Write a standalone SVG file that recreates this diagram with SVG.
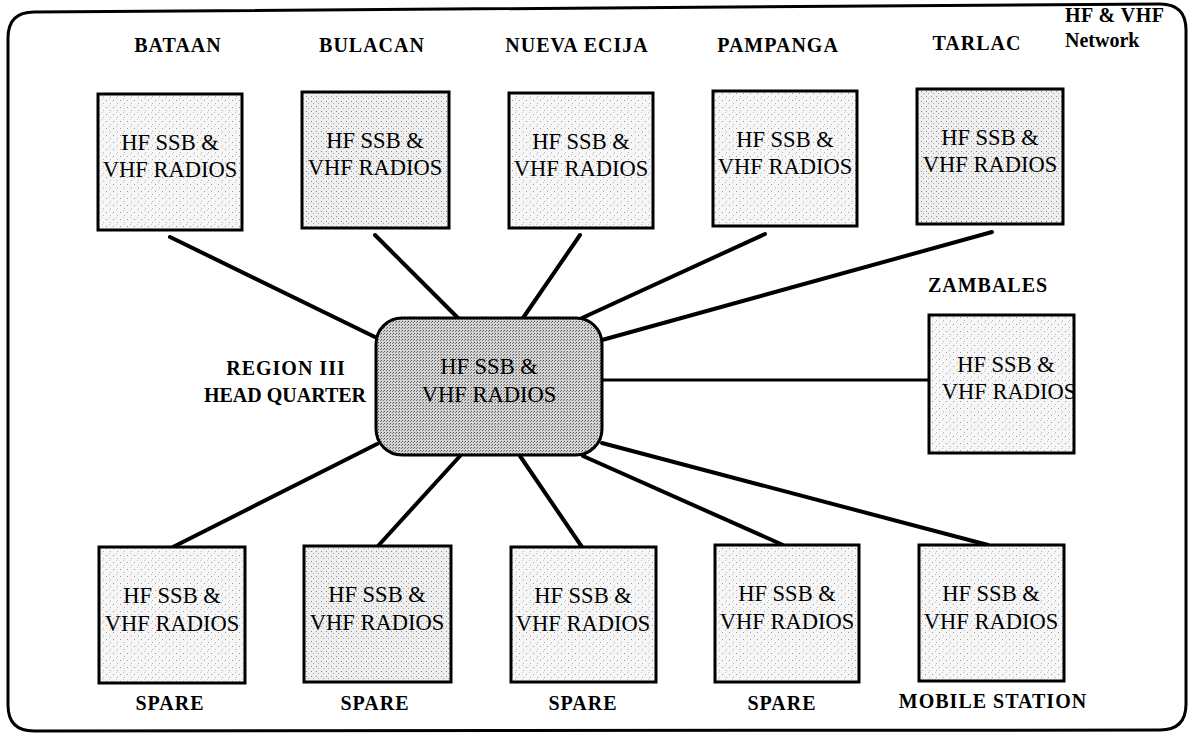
<svg xmlns="http://www.w3.org/2000/svg" width="1190" height="733" viewBox="0 0 1190 733">
<defs>
<pattern id="speck" width="7" height="7" patternUnits="userSpaceOnUse">
<rect width="7" height="7" fill="#f6f6f6"/>
<rect x="1" y="2" width="1" height="1" fill="#9a9a9a"/>
<rect x="5" y="5" width="1" height="1" fill="#b4b4b4"/>
<rect x="4" y="0" width="1" height="1" fill="#c8c8c8"/>
</pattern>
<pattern id="speck2" width="5" height="5" patternUnits="userSpaceOnUse">
<rect width="5" height="5" fill="#efefef"/>
<rect x="1" y="1" width="1" height="1" fill="#8a8a8a"/>
<rect x="3" y="3" width="1" height="1" fill="#a4a4a4"/>
</pattern>
<pattern id="halftone" width="3" height="3" patternUnits="userSpaceOnUse">
<rect width="3" height="3" fill="#d4d4d4"/>
<rect x="0" y="0" width="1" height="1" fill="#555"/>
<rect x="2" y="1" width="1" height="1" fill="#777"/>
</pattern>
</defs>
<style>
.frame{fill:none;stroke:#000;stroke-width:3}
.box{stroke:#000;stroke-width:3;fill:url(#speck)}
.box2{stroke:#000;stroke-width:3;fill:url(#speck2)}
.hub{stroke:#000;stroke-width:3;fill:url(#halftone)}
.t{font-family:"Liberation Serif","Times New Roman",serif;font-size:22.5px;fill:#000;text-anchor:middle}
.lbl{font-family:"Liberation Serif","Times New Roman",serif;font-size:20px;font-weight:bold;fill:#000;text-anchor:middle;letter-spacing:1px}
.conn line{stroke:#000;stroke-width:4;stroke-linecap:round}
</style>
<rect width="1190" height="733" fill="#fff"/>
<path class="frame" d="M8,38 Q8,12 34,12 L1160,4 Q1186,4 1186,30 L1186,704 Q1186,730 1160,730 L34,731 Q8,731 8,705 Z"/>
<g id="title">
<text class="lbl" x="1065" y="22" style="text-anchor:start;letter-spacing:0.5px">HF &amp; VHF</text>
<text class="lbl" x="1065" y="47" style="text-anchor:start;letter-spacing:0">Network</text>
</g>
<g class="conn" id="connectors">
<line x1="170" y1="237" x2="377" y2="338"/>
<line x1="375" y1="235" x2="458" y2="318"/>
<line x1="580" y1="235" x2="523" y2="318"/>
<line x1="765" y1="234" x2="582" y2="318"/>
<line x1="992" y1="232" x2="602" y2="340"/>
<line x1="602" y1="380" x2="929" y2="380" style="stroke-width:3"/>
<line x1="377" y1="444" x2="173" y2="547"/>
<line x1="460" y1="456" x2="378" y2="546"/>
<line x1="520" y1="456" x2="582" y2="547"/>
<line x1="583" y1="456" x2="783" y2="545"/>
<line x1="602" y1="443" x2="988" y2="545"/>
</g>
<g id="hq">
<rect class="hub" x="376" y="318" width="226" height="137" rx="26"/>
<text class="t" x="489" y="374">HF SSB &amp;</text>
<text class="t" x="489" y="402">VHF RADIOS</text>
<text class="lbl" x="286" y="375">REGION III</text>
<text class="lbl" x="285" y="402" style="letter-spacing:0">HEAD QUARTER</text>
</g>
<g id="bataan">
<text class="lbl" x="178" y="52">BATAAN</text>
<rect class="box" x="98" y="94" width="144" height="136"/>
<text class="t" x="170" y="150">HF SSB &amp;</text>
<text class="t" x="170" y="177">VHF RADIOS</text>
</g>
<g id="bulacan">
<text class="lbl" x="372" y="52">BULACAN</text>
<rect class="box2" x="302" y="92" width="147" height="136"/>
<text class="t" x="375" y="148">HF SSB &amp;</text>
<text class="t" x="375" y="175">VHF RADIOS</text>
</g>
<g id="nueva-ecija">
<text class="lbl" x="577" y="52">NUEVA ECIJA</text>
<rect class="box" x="509" y="93" width="144" height="135"/>
<text class="t" x="581" y="149">HF SSB &amp;</text>
<text class="t" x="581" y="176">VHF RADIOS</text>
</g>
<g id="pampanga">
<text class="lbl" x="778" y="52">PAMPANGA</text>
<rect class="box" x="713" y="91" width="144" height="135"/>
<text class="t" x="785" y="147">HF SSB &amp;</text>
<text class="t" x="785" y="174">VHF RADIOS</text>
</g>
<g id="tarlac">
<text class="lbl" x="977" y="50">TARLAC</text>
<rect class="box2" x="917" y="89" width="146" height="135"/>
<text class="t" x="990" y="145">HF SSB &amp;</text>
<text class="t" x="990" y="172">VHF RADIOS</text>
</g>
<g id="zambales">
<text class="lbl" x="988" y="292">ZAMBALES</text>
<rect class="box" x="929" y="315" width="145" height="138"/>
<text class="t" x="1006" y="372">HF SSB &amp;</text>
<text class="t" x="1009" y="399">VHF RADIOS</text>
</g>
<g id="spare1">
<rect class="box" x="99" y="547" width="146" height="136"/>
<text class="t" x="172" y="603">HF SSB &amp;</text>
<text class="t" x="172" y="631">VHF RADIOS</text>
<text class="lbl" x="170" y="710">SPARE</text>
</g>
<g id="spare2">
<rect class="box2" x="304" y="546" width="147" height="136"/>
<text class="t" x="377" y="602">HF SSB &amp;</text>
<text class="t" x="377" y="630">VHF RADIOS</text>
<text class="lbl" x="375" y="710">SPARE</text>
</g>
<g id="spare3">
<rect class="box" x="511" y="547" width="145" height="135"/>
<text class="t" x="583" y="603">HF SSB &amp;</text>
<text class="t" x="583" y="631">VHF RADIOS</text>
<text class="lbl" x="583" y="710">SPARE</text>
</g>
<g id="spare4">
<rect class="box" x="715" y="545" width="144" height="137"/>
<text class="t" x="787" y="601">HF SSB &amp;</text>
<text class="t" x="787" y="629">VHF RADIOS</text>
<text class="lbl" x="782" y="710">SPARE</text>
</g>
<g id="mobile-station">
<rect class="box" x="919" y="545" width="145" height="136"/>
<text class="t" x="991" y="601">HF SSB &amp;</text>
<text class="t" x="991" y="629">VHF RADIOS</text>
<text class="lbl" x="993" y="708">MOBILE STATION</text>
</g>
</svg>
